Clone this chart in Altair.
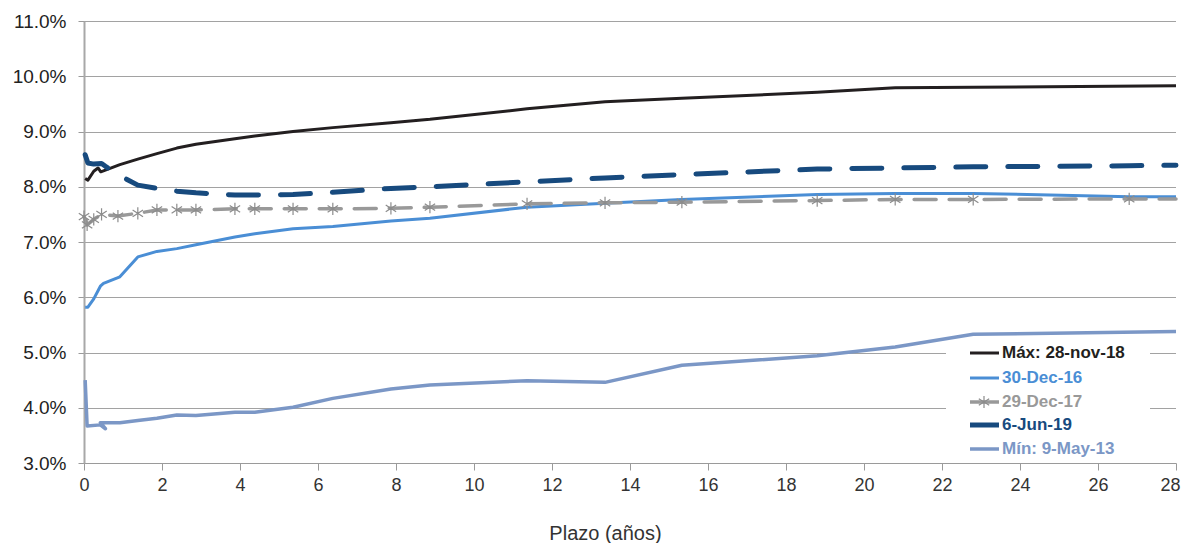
import altair as alt
import pandas as pd

# ---- data (plazo in years, yield in %) ----
names = ["Máx: 28-nov-18", "30-Dec-16", "29-Dec-17", "6-Jun-19", "Mín: 9-May-13"]
colors = ["#231f20", "#4a8ed5", "#999999", "#174a7e", "#7b97c6"]

max_x = [0.03, 0.1, 0.25, 0.36, 0.43, 0.92, 1.38, 1.87, 2.38, 2.87, 3.87, 4.38, 5.36, 6.38, 7.87, 8.87, 11.36, 13.36, 15.33, 18.8, 20.8, 22.8, 28.0]
max_y = [8.15, 8.12, 8.28, 8.34, 8.27, 8.40, 8.50, 8.60, 8.70, 8.77, 8.87, 8.92, 9.00, 9.07, 9.16, 9.22, 9.41, 9.54, 9.60, 9.71, 9.79, 9.80, 9.83]

d16_x = [0.03, 0.1, 0.25, 0.42, 0.5, 0.92, 1.38, 1.87, 2.38, 2.87, 3.87, 4.38, 5.36, 6.38, 7.87, 8.87, 11.36, 13.36, 15.33, 18.8, 20.8, 22.8, 26.8, 28.0]
d16_y = [5.82, 5.82, 5.97, 6.20, 6.25, 6.37, 6.73, 6.83, 6.88, 6.95, 7.09, 7.15, 7.24, 7.28, 7.38, 7.43, 7.63, 7.70, 7.77, 7.86, 7.88, 7.88, 7.82, 7.82]

d17_x = [0.0, 0.08, 0.25, 0.45, 0.87, 1.38, 1.87, 2.38, 2.87, 3.87, 4.38, 5.36, 6.38, 7.87, 8.87, 11.36, 13.36, 15.33, 18.8, 20.8, 22.8, 26.8, 28.0]
d17_y = [7.46, 7.31, 7.41, 7.50, 7.47, 7.52, 7.58, 7.58, 7.58, 7.60, 7.60, 7.60, 7.60, 7.61, 7.63, 7.69, 7.71, 7.72, 7.75, 7.77, 7.77, 7.78, 7.78]

d19_x = [0.03, 0.1, 0.25, 0.45, 0.55, 0.92, 1.38, 1.87, 2.38, 2.87, 3.87, 4.38, 5.36, 6.38, 7.87, 8.87, 11.36, 13.36, 15.33, 18.8, 20.8, 22.8, 26.8, 28.0]
d19_y = [8.58, 8.43, 8.41, 8.42, 8.37, 8.20, 8.03, 7.97, 7.92, 7.89, 7.85, 7.85, 7.86, 7.90, 7.97, 8.00, 8.09, 8.16, 8.22, 8.32, 8.34, 8.36, 8.38, 8.39]

min_x = [0.03, 0.08, 0.42, 0.55, 0.42, 0.92, 1.38, 1.87, 2.38, 2.87, 3.87, 4.38, 5.36, 6.38, 7.87, 8.87, 11.36, 13.36, 15.33, 18.8, 20.8, 22.8, 28.0]
min_y = [4.50, 3.67, 3.69, 3.62, 3.73, 3.73, 3.77, 3.81, 3.87, 3.86, 3.92, 3.92, 4.01, 4.17, 4.34, 4.41, 4.49, 4.46, 4.77, 4.94, 5.10, 5.33, 5.38]

y_ticks = [3, 4, 5, 6, 7, 8, 9, 10, 11]
x_ticks = list(range(0, 29, 2))

series_x = [max_x, d16_x, d17_x, d19_x, min_x]
series_y = [max_y, d16_y, d17_y, d19_y, min_y]

FONT = "Liberation Sans"
widths = [3, 3, 3.5, 5, 3.5]
dashes = [None, None, [22, 13], [30, 22], None]
ASTER = "M0,-1L0,1M-0.85,-0.55L0.85,0.55M-0.85,0.55L0.85,-0.55"

xscale = alt.Scale(domain=[0, 28], nice=False, zero=False)
yscale = alt.Scale(domain=[3, 11], nice=False, zero=False)

x_axis = alt.Axis(values=x_ticks, grid=False, title="Plazo (años)", labelFont=FONT, labelFontSize=18,
                  labelColor="#333333", tickColor="#9a9a9a", tickSize=7, domainColor="#9a9a9a",
                  labelPadding=6, titleFont=FONT, titleFontSize=20, titleFontWeight="normal",
                  titleColor="#333333", titleX=521, titleY=76, titleBaseline="alphabetic",
                  labelFlush=False, labelBound=False,
                  labelOffset={"condition": {"test": "datum.value == 28", "value": -6}, "value": 0})
y_axis = alt.Axis(values=y_ticks, title=None, labelExpr="format(datum.value, '.1f') + '%'",
                  labelFont=FONT, labelFontSize=19, labelColor="#222222", tickColor="#9a9a9a",
                  tickSize=6, labelPadding=12, domainColor="#a8a8a8", domainWidth=2,
                  gridColor="#444444", gridDash=[1, 1], gridWidth=1)

X = alt.X("x:Q", scale=xscale, axis=x_axis)
Y = alt.Y("y:Q", scale=yscale, axis=y_axis)

layers = []

# ---- legend background (drawn under the lines, over the grid) ----
one = pd.DataFrame({"a": [0]})
layers.append(alt.Chart(one).mark_rect(color="white").encode(
    x=alt.value(862), x2=alt.value(1066), y=alt.value(320), y2=alt.value(441)))

for k, name in enumerate(names):
    df = pd.DataFrame({"x": series_x[k], "y": series_y[k], "i": range(len(series_x[k]))})
    kw = dict(color=colors[k], strokeWidth=widths[k], strokeJoin="round")
    if dashes[k]:
        kw["strokeDash"] = dashes[k]
        kw["strokeCap"] = "round"
    layers.append(alt.Chart(df).mark_line(**kw).encode(x=X, y=Y, order="i:Q"))
    if k == 2:
        pts = df[df["x"] < 27.5]
        layers.append(alt.Chart(pts).mark_point(shape=ASTER, size=150, filled=False, stroke="#8c8c8c",
                                                strokeWidth=1.2, opacity=1).encode(x=X, y=Y))

# ---- manual legend ----
leg_y = [332, 357, 381, 404, 428]
leg_w = [3, 3, 3.5, 5, 3.5]
for k, name in enumerate(names):
    layers.append(alt.Chart(one).mark_rule(color=colors[k], strokeWidth=leg_w[k]).encode(
        x=alt.value(886), x2=alt.value(915), y=alt.value(leg_y[k])))
    if k == 2:
        layers.append(alt.Chart(one).mark_point(shape=ASTER, size=150, filled=False, stroke="#8c8c8c",
                                                strokeWidth=1.2, opacity=1).encode(
            x=alt.value(900), y=alt.value(leg_y[k])))
    layers.append(alt.Chart(one).mark_text(text=name, color=colors[k], font=FONT, fontSize=17,
                                           fontWeight="bold", align="left", baseline="middle").encode(
        x=alt.value(918), y=alt.value(leg_y[k])))

chart = alt.layer(*layers).properties(
    width=1092, height=442,
    background="white",
    autosize=alt.AutoSizeParams(type="none"),
    padding={"left": 76, "top": 13, "right": 5, "bottom": 80},
).configure_view(stroke=None)

chart.save("out.html", embed_options={"renderer": "svg", "actions": False})
